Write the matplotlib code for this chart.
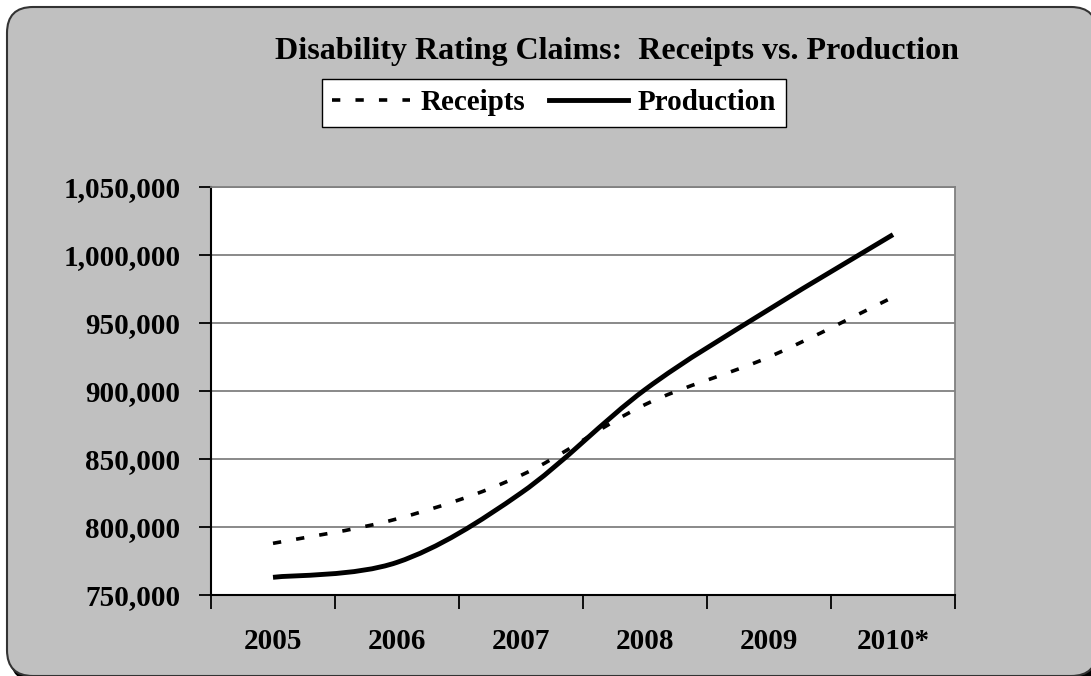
import numpy as np
import matplotlib
matplotlib.use("Agg")
import matplotlib.pyplot as plt
from matplotlib.path import Path
from matplotlib.patches import PathPatch, FancyBboxPatch
from matplotlib.lines import Line2D
from matplotlib.ticker import FuncFormatter, FixedLocator

plt.rcParams['font.family'] = ['Liberation Serif', 'DejaVu Serif']
plt.rcParams['font.weight'] = 'bold'

years = ['2005', '2006', '2007', '2008', '2009', '2010*']
receipts = [788000, 806000, 838000, 890000, 925000, 969000]
production = [763000, 774000, 825000, 901000, 960000, 1015000]

title = 'Disability Rating Claims:  Receipts vs. Production'
y_ticks = [750000, 800000, 850000, 900000, 950000, 1000000, 1050000]
fs = 21


def smooth_path(xs, ys):
    # bezier segments through every point, like a spreadsheet "smoothed line"
    pts = np.column_stack([xs, ys]).astype(float)
    n = len(pts)
    verts = [pts[0]]
    codes = [Path.MOVETO]
    for i in range(n - 1):
        p0 = pts[max(i - 1, 0)]
        p1 = pts[i]
        p2 = pts[i + 1]
        p3 = pts[min(i + 2, n - 1)]
        c1 = p1 + (p2 - p0) / 6.0
        c2 = p2 - (p3 - p1) / 6.0
        verts += [c1, c2, p2]
        codes += [Path.CURVE4] * 3
    return Path(verts, codes)


W, H = 1091, 676
fig = plt.figure(figsize=(W / 100, H / 100), dpi=100, facecolor='white')

# rounded grey panel with a dark drop shadow
bg = fig.add_axes([0, 0, 1, 1])
bg.set_xlim(0, W)
bg.set_ylim(H, 0)
bg.axis('off')
bg.add_patch(FancyBboxPatch((10, 10), 1090, 672, boxstyle='round,pad=0,rounding_size=26',
                            facecolor='black', edgecolor='none'))
bg.add_patch(FancyBboxPatch((7, 7), 1090, 669, boxstyle='round,pad=0,rounding_size=26',
                            facecolor='#c0c0c0', edgecolor='#333333', linewidth=1.5))

ax = fig.add_axes([211 / W, 1 - 595 / H, (955 - 211) / W, (595 - 187) / H])
ax.set_facecolor('white')

x = np.arange(len(years))
ax.add_patch(PathPatch(smooth_path(x, receipts), fill=False, edgecolor='black',
                       linewidth=2.6, linestyle=(0, (2.3, 4.2)), capstyle='butt', zorder=3))
ax.add_patch(PathPatch(smooth_path(x, production), fill=False, edgecolor='black',
                       linewidth=3.5, capstyle='butt', zorder=4))

ax.set_xlim(-0.5, len(years) - 0.5)
ax.set_ylim(750000, 1050000)

ax.set_yticks(y_ticks)
ax.yaxis.set_major_formatter(FuncFormatter(lambda v, p: f'{int(v):,}'))
ax.grid(axis='y', color='#808080', linewidth=1.3)
ax.set_axisbelow(True)

ax.set_xticks(x)
ax.set_xticklabels(years)
ax.xaxis.set_minor_locator(FixedLocator(np.arange(-0.5, len(years), 1.0)))
ax.tick_params(axis='x', which='major', length=0, pad=24, labelsize=fs)
ax.tick_params(axis='x', which='minor', length=10, width=1.3, direction='out', color='black')
ax.tick_params(axis='y', length=9, width=1.3, direction='out', color='black', pad=13, labelsize=fs)

for side in ['top', 'right']:
    ax.spines[side].set_color('#808080')
    ax.spines[side].set_linewidth(1.3)
for side in ['left', 'bottom']:
    ax.spines[side].set_color('black')
    ax.spines[side].set_linewidth(1.5)

fig.text(617 / W, 1 - 51 / H, title, ha='center', va='center', fontsize=23, fontweight='bold')

handles = [Line2D([], [], color='black', linewidth=2.6, linestyle=(0, (2.3, 4.2))),
           Line2D([], [], color='black', linewidth=3.5)]
leg = fig.legend(handles, ['Receipts', 'Production'], loc='center',
                 bbox_to_anchor=(554 / W, 1 - 103 / H), ncol=2, frameon=True,
                 fancybox=False, edgecolor='black', framealpha=1, fontsize=fs,
                 handlelength=2.7, handletextpad=0.35, columnspacing=0.8,
                 borderpad=0.35, borderaxespad=0)
leg.get_frame().set_linewidth(1.0)

fig.savefig('out.png', dpi=100, facecolor='white')
